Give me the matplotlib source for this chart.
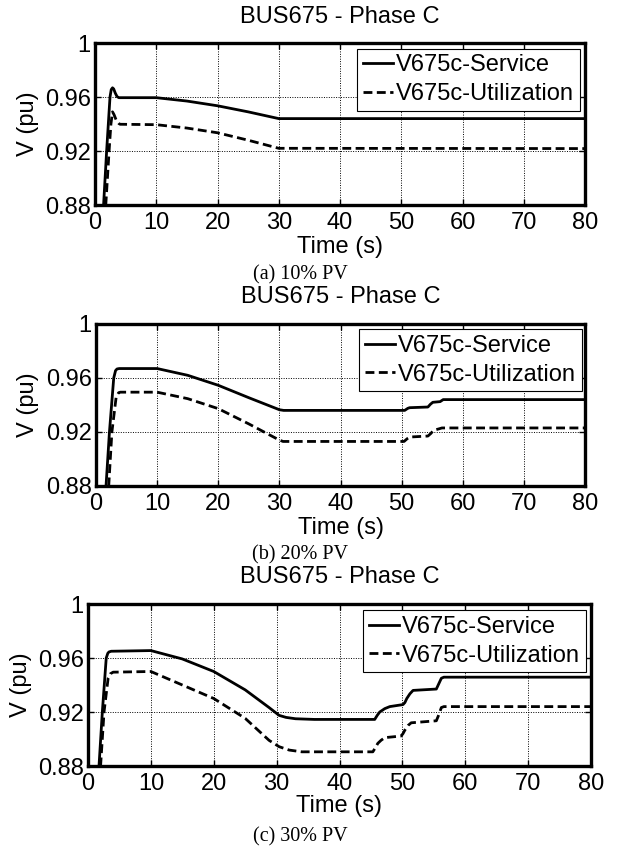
import matplotlib
matplotlib.use("Agg")
import matplotlib.pyplot as plt

plt.rcParams['font.family'] = ['Liberation Sans', 'DejaVu Sans']

# ---------------- data ----------------
title_text = "BUS675 - Phase C"
captions = ["(a) 10% PV", "(b) 20% PV", "(c) 30% PV"]
label_service = "V675c-Service"
label_util = "V675c-Utilization"
x_ticks = [0, 10, 20, 30, 40, 50, 60, 70, 80]
y_ticks = [0.88, 0.92, 0.96, 1.0]
y_tick_labels = ["0.88", "0.92", "0.96", "1"]

# Panel (a) 10% PV
t1_service = [1.2, 1.4, 1.9, 2.45, 2.65, 2.86, 3.05, 3.3, 3.6, 3.9, 10, 15, 20, 25, 30, 80]
v1_service = [0.86, 0.88, 0.92, 0.960, 0.9655, 0.9668, 0.966, 0.963, 0.9603, 0.9595,
              0.9595, 0.957, 0.9535, 0.949, 0.944, 0.944]
t1_util = [1.6, 1.76, 2.3, 2.6, 2.86, 3.1, 3.5, 3.9, 4.1, 10, 15, 20, 25, 30, 80]
v1_util = [0.86, 0.88, 0.92, 0.940, 0.949, 0.947, 0.9425, 0.9403, 0.9398,
           0.9395, 0.937, 0.9335, 0.928, 0.922, 0.9218]

# Panel (b) 20% PV
t2_service = [1.4, 1.64, 2.2, 2.9, 3.2, 3.44, 3.8, 10, 15, 20, 25, 30, 30.7,
              50.5, 51.0, 51.3, 54.3, 54.7, 55.1, 56.3, 56.8, 80]
v2_service = [0.86, 0.88, 0.92, 0.96, 0.9655, 0.9667, 0.967, 0.967, 0.962, 0.9546,
              0.9454, 0.9365, 0.936, 0.936, 0.9375, 0.938, 0.9385, 0.9405, 0.942,
              0.9425, 0.944, 0.944]
t2_util = [1.85, 2.08, 2.6, 3.3, 3.7, 4.0, 10, 15, 20, 25, 30, 30.6,
           50.4, 50.9, 51.4, 54.3, 54.8, 55.2, 56.0, 56.6, 80]
v2_util = [0.86, 0.88, 0.92, 0.946, 0.9491, 0.9495, 0.9495, 0.9447, 0.9373, 0.926,
           0.914, 0.913, 0.913, 0.915, 0.9163, 0.917, 0.919, 0.9212, 0.9222, 0.923, 0.923]

# Panel (c) 30% PV
t3_service = [1.5, 1.75, 2.28, 2.9, 3.15, 3.34, 3.7, 10, 15, 20, 25, 28.8, 30.4,
              31.5, 33, 36, 45.6, 46.0, 46.4, 47.2, 48, 50.1, 50.4, 50.7, 51.2,
              51.7, 55.4, 55.8, 56.2, 56.6, 80]
v3_service = [0.86, 0.88, 0.92, 0.96, 0.9635, 0.9645, 0.965, 0.9655, 0.9593, 0.950,
              0.9364, 0.9233, 0.9175, 0.916, 0.915, 0.9145, 0.9145, 0.9175, 0.920,
              0.9225, 0.924, 0.9255, 0.927, 0.930, 0.9335, 0.936, 0.937, 0.941,
              0.945, 0.9458, 0.9458]
t3_util = [1.75, 2.0, 2.55, 3.2, 3.55, 4.0, 10, 15, 20, 25, 28.8, 30.4, 32, 34,
           45.3, 45.7, 46.1, 46.6, 47.2, 49.8, 50.1, 50.4, 50.9, 51.4, 55.4, 55.8,
           56.2, 56.6, 80]
v3_util = [0.86, 0.88, 0.92, 0.945, 0.9483, 0.9495, 0.950, 0.940, 0.930, 0.9153,
           0.899, 0.8943, 0.8918, 0.8905, 0.8905, 0.8935, 0.8968, 0.899, 0.901,
           0.9022, 0.904, 0.9066, 0.910, 0.912, 0.9135, 0.918, 0.9233, 0.924, 0.924]

panels = [
    (t1_service, v1_service, t1_util, v1_util),
    (t2_service, v2_service, t2_util, v2_util),
    (t3_service, v3_service, t3_util, v3_util),
]

# ---------------- layout (pixels) ----------------
W, H = 617, 850
boxes = [(95, 585, 43, 205), (96, 585, 324, 486), (88, 591, 604, 766)]
title_y = [17, 297, 577]
xlabel_y = [247, 528, 806]
caption_y = [275, 555, 837]
ylabel_x = [28, 28, 21]
legend_anchor = [(0.99, 0.966), (0.994, 0.969), (0.99, 0.963)]
FS = 17

fig = plt.figure(figsize=(W / 100, H / 100), dpi=100)
dash = (0, (3.2, 1.6))

for i, (ts, vs, tu, vu) in enumerate(panels):
    l, r, t, b = boxes[i]
    ax = fig.add_axes([l / W, 1 - b / H, (r - l) / W, (b - t) / H])
    ax.plot(ts, vs, color='black', lw=2.0, solid_joinstyle='round', label=label_service)
    ax.plot(tu, vu, color='black', lw=2.0, linestyle=dash, label=label_util)
    ax.set_xlim(0, 80)
    ax.set_ylim(0.88, 1.0)
    ax.set_xticks(x_ticks)
    ax.set_yticks(y_ticks)
    ax.set_yticklabels(y_tick_labels)
    ax.grid(True, color='black', linestyle=(0, (1, 1.5)), linewidth=0.7)
    ax.tick_params(direction='in', length=4, width=1, top=True, right=True,
                   labelsize=FS, colors='black')
    ax.tick_params(axis='x', pad=5)
    ax.tick_params(axis='y', pad=3)
    for sp in ax.spines.values():
        sp.set_linewidth(2.4)
        sp.set_color('black')
    leg = ax.legend(loc='upper right', bbox_to_anchor=legend_anchor[i],
                    borderaxespad=0, fontsize=FS, handlelength=1.3,
                    handletextpad=0.12, borderpad=0.25, labelspacing=0.28,
                    fancybox=False, framealpha=1, edgecolor='black')
    leg.get_frame().set_linewidth(0.8)
    cx = (l + r) / 2 / W
    fig.text(cx, 1 - title_y[i] / H, title_text, ha='center', va='center', fontsize=FS)
    fig.text(cx, 1 - xlabel_y[i] / H, "Time (s)", ha='center', va='center', fontsize=FS)
    fig.text(ylabel_x[i] / W, 1 - (t + b) / 2 / H, "V (pu)", ha='center', va='center',
             rotation=90, fontsize=FS)
    fig.text(300 / W, 1 - caption_y[i] / H, captions[i], ha='center', va='center',
             fontsize=14.5, family=['Liberation Serif', 'DejaVu Serif'])

fig.savefig("out.png", dpi=100)
